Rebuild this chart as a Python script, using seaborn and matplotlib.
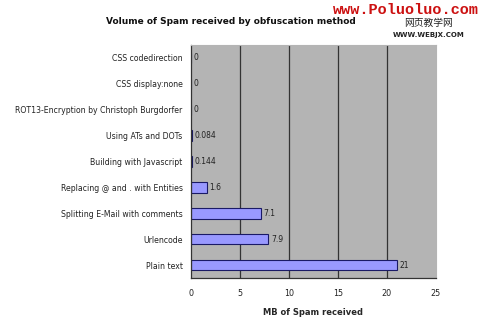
import matplotlib
matplotlib.use("Agg")
import matplotlib.pyplot as plt
import seaborn as sns
import pandas as pd
import numpy as np

categories = ["CSS codedirection", "CSS display:none",
              "ROT13-Encryption by Christoph Burgdorfer", "Using ATs and DOTs",
              "Building with Javascript", "Replacing @ and . with Entities",
              "Splitting E-Mail with comments", "Urlencode", "Plain text"]
values = [0, 0, 0, 0.084, 0.144, 1.6, 7.1, 7.9, 21]
value_labels = ["0", "0", "0", "0.084", "0.144", "1.6", "7.1", "7.9", "21"]
xticks = [0, 5, 10, 15, 20, 25]

df = pd.DataFrame({"method": categories, "mb": values})

sns.set_style("white")
plt.rcParams['font.family'] = ['DejaVu Sans']

fig = plt.figure(figsize=(4.8, 3.28), dpi=100)
ax = fig.add_axes([0.398, 0.152, 0.51, 0.711])
ax.set_facecolor("#b4b4b4")

sns.barplot(data=df, y="method", x="mb", orient="h", ax=ax,
            color="#9999ff", edgecolor="#1a1a66", linewidth=0.8,
            width=0.4, saturation=1)

ax.set_xlim(0, 25)
ax.set_ylim(len(categories) - 0.5, -0.5)
ax.set_xticks(xticks)
ax.set_xticklabels([str(t) for t in xticks], fontsize=5.8, color="#222222")
for t in xticks[1:-1]:
    ax.axvline(t, color="#333333", linewidth=0.9, zorder=0.5)

# category ticks at boundaries (Excel style)
ax.set_yticks(range(len(categories)))
ax.set_yticklabels(categories, fontsize=5.6, color="#222222")
ax.tick_params(axis="y", length=0, pad=6)
ax.set_yticks(np.arange(-0.5, len(categories), 1), minor=True)
ax.tick_params(axis="y", which="minor", length=3, width=0.8, color="#333333")
ax.tick_params(axis="x", length=3, width=0.8, color="#333333", pad=5)

for sp in ["top", "right"]:
    ax.spines[sp].set_color("#b4b4b4")
for sp in ["left", "bottom"]:
    ax.spines[sp].set_color("#333333")
    ax.spines[sp].set_linewidth(0.9)

for i, (v, lab) in enumerate(zip(values, value_labels)):
    ax.text(v + 0.25, i, lab, va="center", ha="left", fontsize=5.5, color="#222222")

ax.set_xlabel("MB of Spam received", fontsize=6, fontweight="bold", labelpad=7)
ax.set_ylabel("")

fig.text(0.481, 0.935, "Volume of Spam received by obfuscation method",
         ha="center", va="center", fontsize=6.5, fontweight="bold", color="#111111")

# watermark texts
fig.text(0.997, 0.97, "www.Poluoluo.com", ha="right", va="center",
         fontsize=11, fontweight="bold", color="#cc1111", family="Liberation Mono")
fig.text(0.893, 0.93, "网页教学网", ha="center", va="center", fontsize=7,
         color="#222222", family=["Noto Sans CJK SC", "DejaVu Sans"])
fig.text(0.893, 0.893, "WWW.WEBJX.COM", ha="center", va="center", fontsize=5,
         fontweight="bold", color="#222222")

fig.savefig("out.png", dpi=100)
